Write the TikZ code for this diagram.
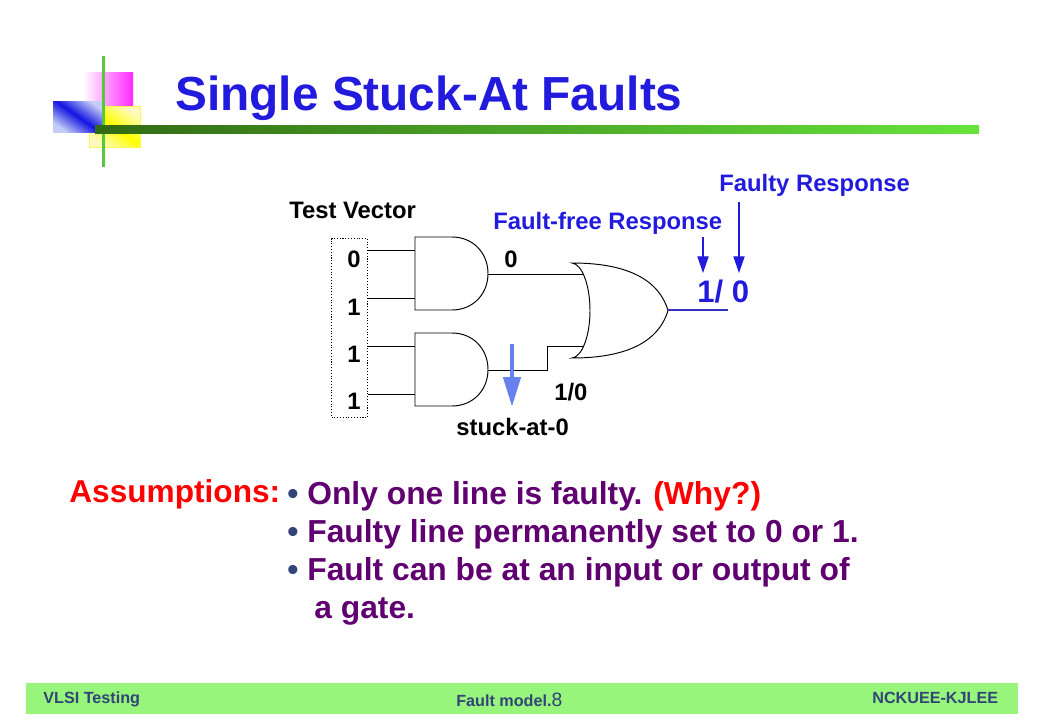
\documentclass[tikz,border=0pt]{standalone}
\usepackage{fontspec}
\setmainfont{Liberation Sans}
\usetikzlibrary{positioning,arrows.meta}
\definecolor{titleblue}{RGB}{34,26,220}
\definecolor{bulletpurple}{RGB}{96,0,112}
\definecolor{barshade}{RGB}{150,245,122}
\definecolor{bartext}{RGB}{50,68,120}
\definecolor{wireblue}{RGB}{50,50,190}
\definecolor{faultarrow}{RGB}{104,128,240}
\definecolor{logogreen}{RGB}{85,200,62}
\definecolor{ruledark}{RGB}{50,106,20}
\definecolor{rulelight}{RGB}{102,228,60}
\definecolor{logomagenta}{RGB}{255,40,255}
\definecolor{paleblue}{RGB}{195,205,245}
\definecolor{deepblue}{RGB}{20,20,225}
\definecolor{paleyellow}{RGB}{255,250,190}
\tikzset{
  lbl/.style={inner sep=0pt,anchor=base west,font=\bfseries\fontsize{13.55}{15}\selectfont},
  bulletline/.style={inner sep=0pt,anchor=base west,text=bulletpurple,font=\bfseries\fontsize{18.1}{20}\selectfont},
  bartxt/.style={inner sep=0pt,anchor=base west,text=bartext,font=\bfseries\fontsize{9.2}{10}\selectfont},
  gate/.style={draw=black,line width=0.55pt},
  wire/.style={draw=black,line width=0.5pt},
  resparrow/.style={draw=titleblue,line width=0.6pt,-{Triangle[length=9.5pt,width=6.4pt]}},
  andgate/.pic={
    \draw [gate] (0,0) -- (37,0) .. controls (58,0) and (73,16) .. (73,36.5)
      .. controls (73,57) and (58,73) .. (37,73) -- (0,73) -- cycle;
    \coordinate (-a) at (0,13);
    \coordinate (-b) at (0,61);
    \coordinate (-y) at (73,37);
  },
  orgate/.pic={
    \draw [gate] (0,0) .. controls (10,1) and (18,22) .. (18,47.5)
      .. controls (18,73) and (10,94) .. (0,95)
      .. controls (45,95) and (85,84) .. (96,47.5)
      .. controls (85,11) and (45,0) .. (0,0) -- cycle;
    \coordinate (-a) at (12,11);
    \coordinate (-b) at (11,83);
    \coordinate (-y) at (96,47);
  },
}
\begin{document}
\begin{tikzpicture}[x=0.02cm,y=-0.02cm]
  \useasboundingbox (0,0) rectangle (1040,720);
  % logo squares
  \shade [left color=white,right color=logomagenta] (83,72) rectangle (133,110);
  \shade [draw=yellow!70,top color=paleyellow,bottom color=paleyellow,middle color=yellow,shading angle=-35] (89,106) rectangle (140,147);
  \shade [top color=paleblue,bottom color=paleblue,middle color=deepblue,shading angle=-35] (53,101) rectangle (103,132);
  \fill [logogreen] (102,56) rectangle (105,167);
  \shade [left color=ruledark,right color=rulelight] (95,125) rectangle (979,133);
  % title
  \node [inner sep=0pt,anchor=base west,text=titleblue,font=\bfseries\fontsize{27.2}{30}\selectfont] (title) at (175,110) {Single Stuck-At Faults};
  % gates
  \pic (gA) at (415,237) {andgate};
  \pic (gB) at (415,333) {andgate};
  \pic (gC) at (572,263) {orgate};
  % test vector
  \node [draw=black,densely dotted,line width=0.6pt,inner sep=0pt,anchor=north west,minimum width=0.72cm,minimum height=3.58cm] (vec) at (331,238) {};
  \node [lbl] (vecname) at (289,218) {Test Vector};
  \node [lbl] (bit0) at (347,267) {0};
  \node [lbl] (bit1) at (347,315) {1};
  \node [lbl] (bit2) at (347,362) {1};
  \node [lbl] (bit3) at (347,409) {1};
  % wires
  \draw [wire] (vec.east |- gA-a) -- (gA-a);
  \draw [wire] (vec.east |- gA-b) -- (gA-b);
  \draw [wire] (vec.east |- gB-a) -- (gB-a);
  \draw [wire] (vec.east |- gB-b) -- (gB-b);
  \draw [wire] (gA-y) -- (gC-a);
  \coordinate (kink) at (547,370);
  \draw [wire] (gB-y) -- (kink) -- (kink |- gC-b) -- (gC-b);
  \coordinate (outend) at (728,310);
  \draw [draw=wireblue,line width=0.6pt] (gC-y) -- (outend);
  % labels near the gates
  \node [lbl] (wire0) at (504,267) {0};
  \node [lbl] (wire10) at (554,400) {1/0};
  \node [lbl] (stuck) at (456,435) {stuck-at-0};
  % stuck arrow
  \coordinate (stucktop) at (512,344);
  \coordinate (stuckend) at (512,407);
  \draw [draw=faultarrow,line width=2.6pt,-{Triangle[length=17pt,width=9.6pt]}] (stucktop) -- (stuckend);
  % responses
  \node [lbl,text=titleblue] (freetxt) at (493,229) {Fault-free Response};
  \node [lbl,text=titleblue] (faultytxt) at (719,191) {Faulty Response};
  \node [inner sep=0pt,anchor=base west,text=titleblue,font=\bfseries\fontsize{17.7}{20}\selectfont] (resp) at (697,302) {1/ 0};
  \coordinate (freetop) at (703,237);
  \coordinate (freeend) at (703,273);
  \coordinate (faultytop) at (739,202);
  \coordinate (faultyend) at (739,273);
  \draw [resparrow] (freetop) -- (freeend);
  \draw [resparrow] (faultytop) -- (faultyend);
  % assumptions
  \node [inner sep=0pt,anchor=base west,text=red,font=\bfseries\fontsize{18}{20}\selectfont] (assume) at (69,502) {Assumptions:};
  \node [bulletline] (lineA) at (287,504) {\textcolor{bartext}{•} Only one line is faulty.};
  \node [bulletline,text=red] (why) at (653,504) {(Why?)};
  \node [bulletline] (lineB) at (287,542) {\textcolor{bartext}{•} Faulty line permanently set to 0 or 1.};
  \node [bulletline] (lineC) at (287,580) {\textcolor{bartext}{•} Fault can be at an input or output of};
  \node [bulletline] (lineD) at (314,618) {a gate.};
  % footer
  \fill [barshade] (26,683) rectangle (1018,714);
  \node [bartxt] (barL) at (43,703) {VLSI Testing};
  \node [bartxt] (barM) at (456,706) {Fault model.\fontsize{11}{12}\selectfont\mdseries 8};
  \node [bartxt] (barR) at (872,703) {NCKUEE-KJLEE};
\end{tikzpicture}
\end{document}
